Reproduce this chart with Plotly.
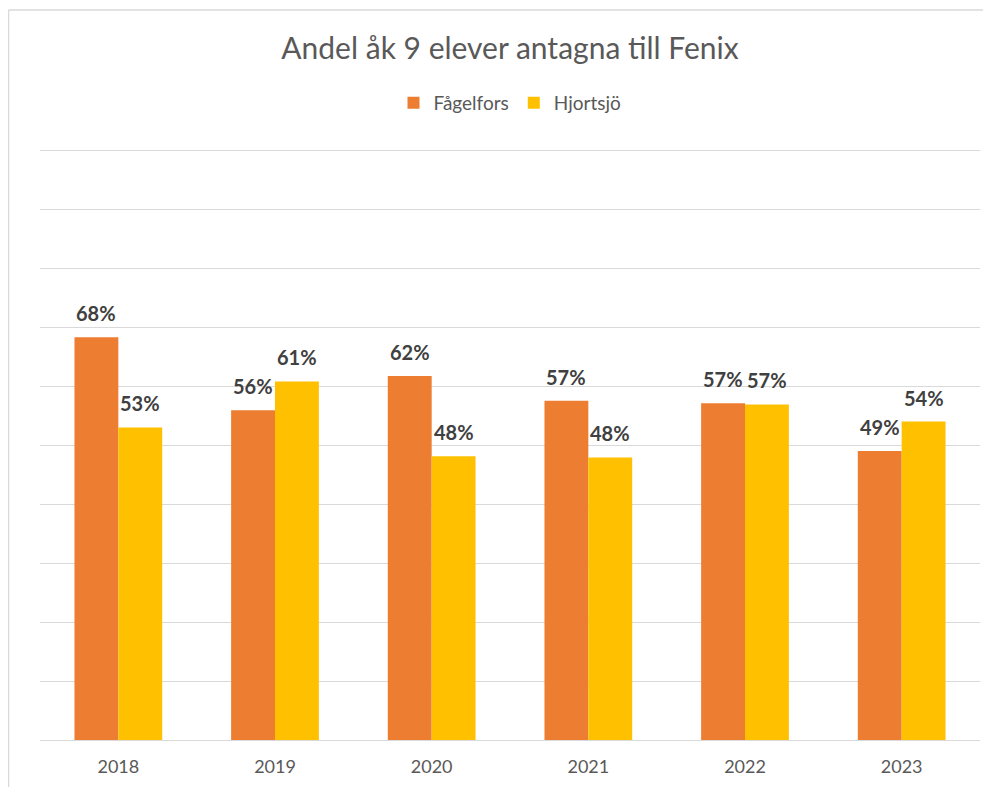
import plotly.graph_objects as go

years = ["2018", "2019", "2020", "2021", "2022", "2023"]
fagelfors = [0.683, 0.559, 0.617, 0.575, 0.571, 0.49]
hjortsjo = [0.53, 0.608, 0.481, 0.479, 0.569, 0.54]
series_names = ["Fågelfors", "Hjortsjö"]
colors = ["#ED7D31", "#FFC000"]

FONT = "Lato, 'Open Sans', sans-serif"

# page has an 8px body margin; figure coordinates are offset accordingly
L, T, R, B = 32, 141, 19, 55
W, H = 991, 787
PW, PH = W - L - R, H - T - B

fig = go.Figure()
for name, vals, col in zip(series_names, [fagelfors, hjortsjo], colors):
    fig.add_trace(go.Bar(
        x=years, y=vals, name=name, marker=dict(color=col, line=dict(width=0)),
    ))

annotations = []
for vals, shift in zip([fagelfors, hjortsjo], [-22, 22]):
    for i, v in enumerate(vals):
        annotations.append(dict(
            x=i, y=v, xref="x", yref="y", text=f"<b>{v:.0%}</b>", showarrow=False,
            xanchor="center", yanchor="bottom", xshift=shift, yshift=10,
            font=dict(family=FONT, size=20, color="#404040"),
        ))

fig.update_layout(
    width=W, height=H,
    margin=dict(l=L, r=R, t=T, b=B),
    paper_bgcolor="white", plot_bgcolor="white",
    barmode="group", bargap=0.44, bargroupgap=0,
    title=dict(text="Andel åk 9 elever antagna till Fenix", x=(L + PW / 2) / W, xanchor="center",
               y=1 - 40 / H, yanchor="middle",
               font=dict(family=FONT, size=30, color="#595959")),
    legend=dict(orientation="h", x=0.5, xanchor="center",
                y=1 - 95 / H, yref="container",
                yanchor="middle", font=dict(family=FONT, size=19, color="#595959"),
                itemwidth=30, traceorder="normal"),
    showlegend=True,
    annotations=annotations,
    xaxis=dict(type="category", range=[-0.5, 5.5], autorange=False,
               showgrid=False, showline=True, linecolor="#d9d9d9", linewidth=1,
               ticks="", ticklabelstandoff=10,
               tickfont=dict(family=FONT, size=18, color="#595959")),
    yaxis=dict(range=[0, 1.002], autorange=False, dtick=0.1, showgrid=True, gridcolor="#d9d9d9", gridwidth=1,
               showticklabels=False, zeroline=False, showline=False),
    shapes=[
        dict(type="line", xref="paper", yref="paper", x0=(0.5 - L) / PW, x1=(W + 10 - L) / PW,
             y0=(H - B - 2) / PH, y1=(H - B - 2) / PH, line=dict(color="#d9d9d9", width=1.5)),
        dict(type="line", xref="paper", yref="paper", x0=(0.5 - L) / PW, x1=(0.5 - L) / PW,
             y0=-B / PH - 0.05, y1=(H - B - 2) / PH, line=dict(color="#d9d9d9", width=1.5)),
    ],
)

fig.write_html("out.html")
